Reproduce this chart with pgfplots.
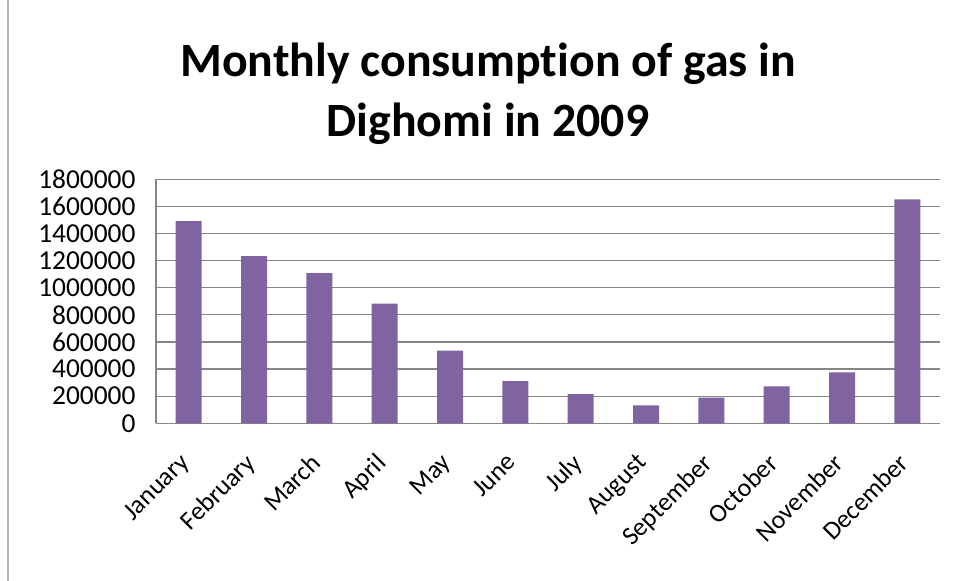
\documentclass[border=0pt]{standalone}
\usepackage{pgfplots}
\pgfplotsset{compat=1.18}
\usepackage{fontspec}
\setmainfont{Carlito}[Ligatures=NoCommon]
\definecolor{barpurple}{HTML}{8064A2}
\definecolor{gridgray}{HTML}{868686}
\begin{document}
\begin{tikzpicture}[x=1bp,y=1bp]
\path[use as bounding box] (0,0) rectangle (958,581);
\draw[gray!60, line width=1.2bp] (8,0) -- (8,581);
\node[align=center, font=\fontsize{48}{60}\selectfont\bfseries] at (488,487) {Monthly consumption of gas in\\Dighomi in 2009};
\begin{axis}[
  at={(156bp,157.7bp)}, anchor=south west,
  scale only axis, width=784bp, height=244bp,
  ymin=0, ymax=1800000,
  ytick={0,200000,...,1800000},
  scaled y ticks=false,
  yticklabel style={/pgf/number format/fixed, /pgf/number format/1000 sep={}, /pgf/number format/assume math mode=true, font=\fontsize{27.5}{30}\selectfont, xshift=-17bp},
  xmin=-0.5, xmax=11.5,
  xtick=data,
  xticklabels={January,February,March,April,May,June,July,August,September,October,November,December},
  xticklabel style={font=\fontsize{26}{30}\selectfont, inner sep=1bp, xshift=-10bp, yshift=-27bp, rotate=45, anchor=north east},
  ymajorgrids, grid style={gridgray, line width=1.2bp},
  axis lines*=left,
  axis line style={gridgray, line width=1.2bp},
  major tick length=0pt,
  tick style={draw=none},
  clip=false,
]
\addplot[ybar, bar width=26bp, fill=barpurple, draw=none] coordinates {
(0,1492000) (1,1234000) (2,1107000) (3,882000) (4,536000) (5,312000)
(6,216000) (7,133000) (8,189000) (9,273000) (10,376000) (11,1652000)};
\end{axis}
\end{tikzpicture}
\end{document}
